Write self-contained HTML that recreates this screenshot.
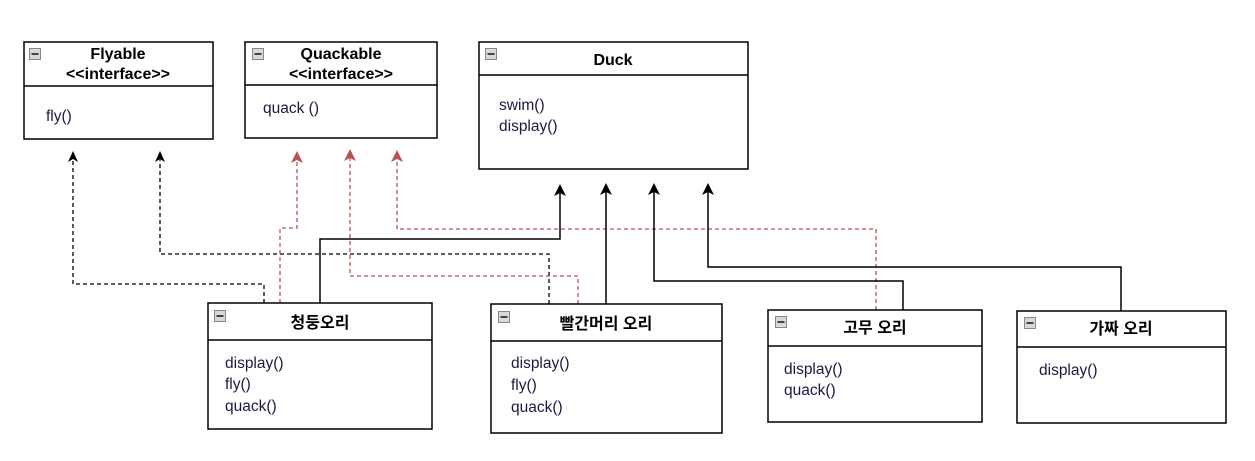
<!DOCTYPE html>
<html><head><meta charset="utf-8"><style>
html,body{margin:0;padding:0;background:#fff;}
svg{display:block;}
text{font-family:"Liberation Sans","Noto Sans CJK KR",sans-serif;}
.t{font-weight:bold;font-size:16px;fill:#000;text-anchor:middle;}
.m{font-size:15.5px;fill:#1a1a40;}
.box{fill:#fff;stroke:#000;stroke-width:1.5;}
.bd{stroke:#000;stroke-width:1.3;fill:none;stroke-dasharray:4 3;}
.rd{stroke:#b85450;stroke-width:1.3;fill:none;stroke-dasharray:4 3;}
.sl{stroke:#000;stroke-width:1.5;fill:none;}
</style></head><body>
<svg width="1255" height="461" viewBox="0 0 1255 461" xmlns="http://www.w3.org/2000/svg">
<defs>
<symbol id="ic" viewBox="0 0 12 12"><rect x="0.5" y="0.5" width="11" height="11" fill="#d8d8d8" stroke="#888"/><rect x="2.5" y="5" width="7" height="2" fill="#444"/></symbol>
</defs>
<!-- connectors -->
<polyline class="bd" points="264,303 264,284 73,284 73,158"/>
<polyline class="bd" points="549,304 549,254 160,254 160,158"/>
<polyline class="rd" points="280,303 280,228 297,228 297,158"/>
<polyline class="rd" points="578,304 578,276 350,276 350,156"/>
<polyline class="rd" points="876,310 876,229 397,229 397,157"/>
<polyline class="sl" points="320,303 320,239 560,239 560,190"/>
<polyline class="sl" points="606,304 606,190"/>
<polyline class="sl" points="903,310 903,281 654,281 654,190"/>
<polyline class="sl" points="1121,311 1121,267 708,267 708,190"/>
<!-- arrowheads -->
<g fill="#000">
<path d="M73,151 l-5,11 l5,-3 l5,3z"/>
<path d="M160,151 l-5,11 l5,-3 l5,3z"/>
<path d="M560,184 l-6,12 l6,-3 l6,3z"/>
<path d="M606,183 l-6,12 l6,-3 l6,3z"/>
<path d="M654,183 l-6,12 l6,-3 l6,3z"/>
<path d="M708,183 l-6,12 l6,-3 l6,3z"/>
</g>
<g fill="#b85450">
<path d="M297,151 l-6,12 l6,-3 l6,3z"/>
<path d="M350,149 l-6,12 l6,-3 l6,3z"/>
<path d="M397,150 l-6,12 l6,-3 l6,3z"/>
</g>
<!-- Flyable -->
<rect class="box" x="24" y="42" width="189" height="97"/>
<line class="sl" x1="24" y1="86" x2="213" y2="86"/>
<use href="#ic" x="29" y="48" width="12" height="12"/>
<text class="t" x="118" y="59">Flyable</text>
<text class="t" x="118" y="79">&lt;&lt;interface&gt;&gt;</text>
<text class="m" x="46" y="121">fly()</text>
<!-- Quackable -->
<rect class="box" x="245" y="42" width="192" height="96"/>
<line class="sl" x1="245" y1="85" x2="437" y2="85"/>
<use href="#ic" x="252" y="48" width="12" height="12"/>
<text class="t" x="341" y="59">Quackable</text>
<text class="t" x="341" y="79">&lt;&lt;interface&gt;&gt;</text>
<text class="m" x="263" y="113">quack ()</text>
<!-- Duck -->
<rect class="box" x="479" y="42" width="269" height="127"/>
<line class="sl" x1="479" y1="75" x2="748" y2="75"/>
<use href="#ic" x="485" y="48" width="12" height="12"/>
<text class="t" x="613" y="65">Duck</text>
<text class="m" x="499" y="110">swim()</text>
<text class="m" x="499" y="131">display()</text>
<!-- 청둥오리 -->
<rect class="box" x="208" y="303" width="224" height="126"/>
<line class="sl" x1="208" y1="340" x2="432" y2="340"/>
<use href="#ic" x="214" y="310" width="12" height="12"/>
<text class="t" x="320" y="328">청둥오리</text>
<text class="m" x="225" y="368">display()</text>
<text class="m" x="225" y="389">fly()</text>
<text class="m" x="225" y="411">quack()</text>
<!-- 빨간머리 오리 -->
<rect class="box" x="491" y="304" width="231" height="129"/>
<line class="sl" x1="491" y1="341" x2="722" y2="341"/>
<use href="#ic" x="498" y="311" width="12" height="12"/>
<text class="t" x="606" y="329">빨간머리 오리</text>
<text class="m" x="511" y="368">display()</text>
<text class="m" x="511" y="390">fly()</text>
<text class="m" x="511" y="412">quack()</text>
<!-- 고무 오리 -->
<rect class="box" x="768" y="310" width="214" height="112"/>
<line class="sl" x1="768" y1="346" x2="982" y2="346"/>
<use href="#ic" x="775" y="316" width="12" height="12"/>
<text class="t" x="875" y="333">고무 오리</text>
<text class="m" x="784" y="374">display()</text>
<text class="m" x="784" y="395">quack()</text>
<!-- 가짜 오리 -->
<rect class="box" x="1017" y="311" width="209" height="112"/>
<line class="sl" x1="1017" y1="347" x2="1226" y2="347"/>
<use href="#ic" x="1024" y="317" width="12" height="12"/>
<text class="t" x="1121" y="334">가짜 오리</text>
<text class="m" x="1039" y="375">display()</text>
</svg>
</body></html>
